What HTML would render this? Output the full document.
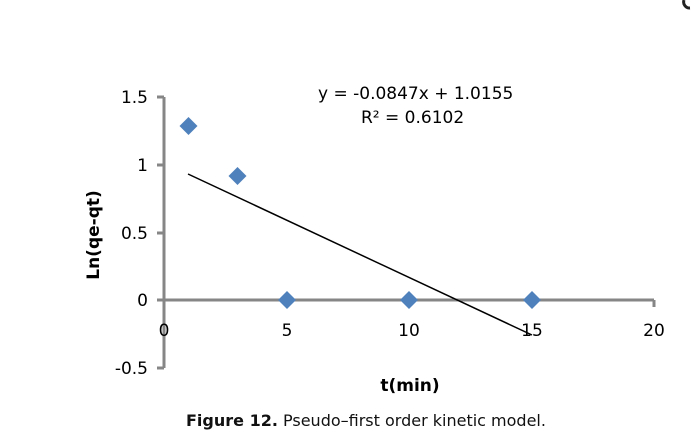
<!DOCTYPE html>
<html><head><meta charset="utf-8"><style>
html,body{margin:0;padding:0;background:#fff;}
svg{display:block;}
text{font-family:"DejaVu Sans","Liberation Sans",sans-serif;}
</style></head><body>
<svg width="691" height="437" viewBox="0 0 691 437" xmlns="http://www.w3.org/2000/svg">
<rect width="691" height="437" fill="#fff"/>
<path d="M684 0 A6 6 0 0 0 690 8" stroke="#222" stroke-width="3" fill="none"/>
<g stroke="#868686" stroke-width="3" fill="none">
<line x1="164" y1="97" x2="164" y2="368"/>
<line x1="157" y1="97" x2="164" y2="97"/>
<line x1="157" y1="165" x2="164" y2="165"/>
<line x1="157" y1="233" x2="164" y2="233"/>
<line x1="157" y1="300" x2="654" y2="300"/>
<line x1="157" y1="368" x2="164" y2="368"/>
<line x1="654" y1="300" x2="654" y2="307"/>
</g>
<g font-size="17" fill="#000" text-anchor="end">
<text x="148" y="103">1.5</text>
<text x="148" y="171">1</text>
<text x="148" y="239">0.5</text>
<text x="148" y="306">0</text>
<text x="148" y="374">-0.5</text>
</g>
<g font-size="17" fill="#000" text-anchor="middle">
<text x="164" y="336">0</text>
<text x="287" y="336">5</text>
<text x="409" y="336">10</text>
<text x="532" y="336">15</text>
<text x="654" y="336">20</text>
</g>
<line x1="188" y1="174" x2="532" y2="335" stroke="#000" stroke-width="1.5"/>
<g fill="#4f81bd">
<path d="M188.5 117 L197.5 126 L188.5 135 L179.5 126 Z"/>
<path d="M237.5 167 L246.5 176 L237.5 185 L228.5 176 Z"/>
<path d="M287 291 L296 300 L287 309 L278 300 Z"/>
<path d="M409 291 L418 300 L409 309 L400 300 Z"/>
<path d="M532 291 L541 300 L532 309 L523 300 Z"/>
</g>
<text x="318" y="99" font-size="17">y = -0.0847x + 1.0155</text>
<text x="361" y="123" font-size="17">R² = 0.6102</text>
<text x="0" y="0" font-size="17" font-weight="bold" text-anchor="middle" transform="translate(99,235) rotate(-90)">Ln(qe-qt)</text>
<text x="410" y="391" font-size="17" font-weight="bold" text-anchor="middle">t(min)</text>
<text x="186" y="426" font-size="16" fill="#111"><tspan font-weight="bold">Figure 12.</tspan> Pseudo–first order kinetic model.</text>
</svg>
</body></html>
